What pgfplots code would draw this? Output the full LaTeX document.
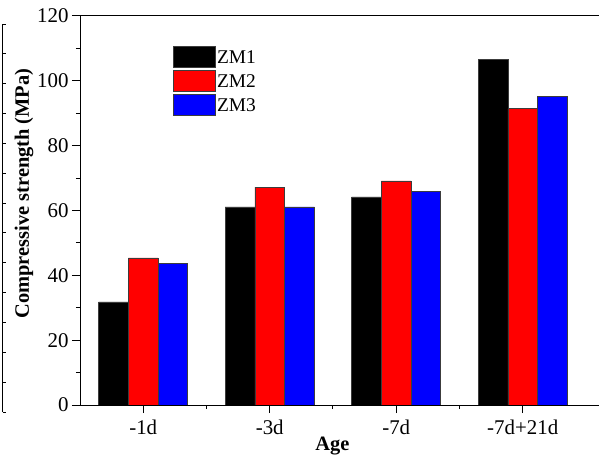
\documentclass[border=0pt]{standalone}
\usepackage{pgfplots}
\pgfplotsset{compat=1.18}
\usepackage{fontspec}
\setmainfont{Liberation Serif}
\definecolor{edgegray}{RGB}{60,60,60}
\begin{document}
\begin{tikzpicture}
\path[use as bounding box] (0,0) rectangle (599bp,457bp);
% stray cropped axis at the very left edge
\begin{axis}[at={(2.5bp,45bp)}, anchor=south west, scale only axis,
  width=20bp, height=388bp, xmin=0, xmax=1, ymin=0, ymax=13,
  hide x axis, axis y line*=left, ytick={0,...,13}, yticklabels={},
  tick align=inside, major tick length=3bp,
  axis line style={line width=0.9bp}, every tick/.style={line width=0.9bp,black}]
\addplot[draw=none] coordinates {(0,0)};
\end{axis}
\begin{axis}[at={(80bp,52bp)}, anchor=south west, scale only axis,
  width=519bp, height=389bp,
  xmin=-0.5, xmax=3.603, ymin=0, ymax=120,
  axis x line*=bottom, axis y line*=left,
  axis line style={line width=1bp},
  ybar=0pt, bar width=29.7bp,
  xtick={0,1,2,3}, xticklabels={-1d,-3d,-7d,-7d+21d},
  minor xtick={0.5,1.5,2.5},
  ytick={0,20,...,120}, minor ytick={10,30,...,110},
  tick align=outside, major tick length=8bp, minor tick length=4bp,
  every tick/.style={line width=1bp, black},
  /pgf/number format/assume math mode=true,
  tick label style={font=\fontsize{21}{24}\selectfont},
  xticklabel style={yshift=-3bp},
  label style={font=\fontsize{20.5}{24}\selectfont\bfseries},
  xlabel={Age},
  xlabel style={at={(axis description cs:0.4865,0)}, anchor=center, yshift=-41bp},
  ylabel={Compressive strength (MPa)},
  ylabel style={at={(axis description cs:-0.1079,0.5437)}, anchor=center, rotate=0},
  legend image code/.code={\draw[#1, line width=0.8bp] (0bp,-10.5bp) rectangle (42bp,10.5bp);},
  legend style={at={(axis description cs:0.1792,0.9229)}, anchor=north west,
    draw=none, fill=none, inner sep=0pt, row sep=2.3bp,
    font=\fontsize{19.5}{22}\selectfont,
    nodes={inner sep=1bp, text depth=0pt}},
  legend cell align=left,
]
\addplot[fill=black, draw=edgegray, line width=0.6bp] coordinates {(0,31.8) (1,61.1) (2,64.2) (3,106.6)};
\addplot[fill=red, draw=edgegray, line width=0.6bp] coordinates {(0,45.4) (1,67.2) (2,69.1) (3,91.4)};
\addplot[fill=blue, draw=edgegray, line width=0.6bp] coordinates {(0,43.8) (1,61.1) (2,66.0) (3,95.2)};
\legend{ZM1,ZM2,ZM3}
\draw[line width=1bp] (rel axis cs:0,1) -- (rel axis cs:1,1);
\end{axis}
\end{tikzpicture}
\end{document}
